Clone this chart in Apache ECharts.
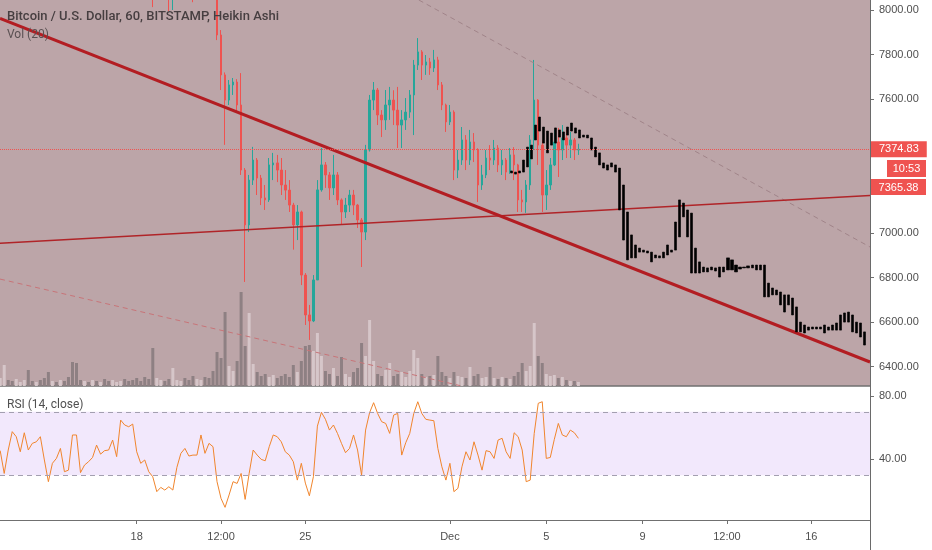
<!DOCTYPE html>
<html><head><meta charset="utf-8">
<script src="https://cdn.jsdelivr.net/npm/echarts@6/dist/echarts.min.js"></script>
<style>html,body{margin:0;padding:0;background:#fff}#c{width:932px;height:550px}</style>
</head><body><div id="c"></div>
<script>
// ---- time layout (hours from 18 Nov 00:00) ----
const candleStartHour = -136;
const candleStepHours = 4;
const patternStartHour = 373;
const patternStepHours = 4;

// ---- Heikin Ashi candles (USD) ----
const candleOpen = [8745,8770,8785,8760,8740,8755,8770,8780,8745,8730,
8750,8735,8700,8660,8680,8670,8690,8665,8630,8560,
8480,8470,8500,8490,8520,8510,8530,8505,8490,8520,
8545,8570,8555,8530,8480,8420,8330,8230,8160,8100,
8130,8165,8140,8090,8110,8140,8160,8130,8105,8090,
8115,8125,8100,8090,8060,7888,7709,7596,7664,7677,
7574,7282,7036,7237,7327,7246,7157,7148,7305,7314,
7282,7215,7192,7125,7036,7094,6811,6632,6605,6789,
7193,7305,7260,7202,7260,7148,7094,7125,7170,7125,
7058,7004,7372,7596,7641,7529,7507,7574,7596,7551,
7484,7507,7542,7619,7753,7812,7753,7767,7740,7776,
7664,7574,7498,7542,7282,7327,7417,7327,7408,7372,
7215,7260,7336,7327,7381,7305,7327,7273,7350,7305,
7148,7139,7215,7417,7596,7394,7170,7215,7305,7408,
7372,7426,7394,7417,7372];
const candleClose = [8770,8785,8760,8740,8755,8770,8780,8745,8730,8750,
8735,8700,8660,8680,8670,8690,8665,8630,8560,8480,
8470,8500,8490,8520,8510,8530,8505,8490,8520,8545,
8570,8555,8530,8480,8420,8330,8230,8160,8100,8130,
8165,8140,8090,8110,8140,8160,8130,8105,8090,8115,
8125,8100,8090,8060,7888,7709,7596,7664,7677,7574,
7282,7036,7237,7327,7246,7157,7148,7305,7314,7282,
7215,7192,7125,7036,7094,6811,6632,6605,6789,7193,
7305,7260,7202,7260,7148,7094,7125,7170,7125,7058,
7004,7372,7596,7641,7529,7507,7574,7596,7551,7484,
7507,7542,7619,7753,7812,7753,7767,7740,7776,7664,
7574,7498,7542,7282,7327,7417,7327,7408,7372,7215,
7260,7336,7327,7381,7305,7327,7273,7350,7305,7148,
7139,7215,7417,7596,7394,7170,7215,7305,7408,7372,
7426,7394,7417,7372,7375];
const candleLow = [8720,8750,8740,8715,8720,8740,8755,8720,8705,8715,
8710,8680,8640,8645,8650,8655,8645,8610,8530,8440,
8445,8455,8470,8475,8490,8495,8485,8470,8475,8505,
8530,8535,8510,8455,8390,8300,8190,8120,8013,8075,
8110,8115,7995,8000,8095,8125,8110,8080,8035,8070,
8095,8075,8060,8045,7865,7641,7395,7574,7619,7543,
7260,6780,7004,7215,7170,7125,7103,7139,7237,7228,
7170,7148,7094,6925,6968,6766,6587,6520,6600,6789,
7185,7202,7148,7170,7125,7036,7067,7094,7080,7022,
6847,6968,7365,7551,7484,7430,7462,7507,7484,7381,
7381,7462,7516,7439,7731,7686,7709,7709,7722,7641,
7551,7453,7484,7237,7246,7305,7282,7305,7318,7139,
7193,7246,7282,7305,7273,7260,7237,7265,7237,7094,
7094,7090,7193,7372,7305,7094,7103,7193,7300,7251,
7327,7336,7336,7327,7350];
const candleHigh = [8800,8810,8800,8775,8780,8795,8805,8800,8760,8770,
8765,8750,8715,8700,8695,8710,8705,8680,8645,8575,
8500,8520,8515,8540,8535,8550,8545,8520,8540,8565,
8590,8590,8570,8545,8495,8435,8345,8245,8175,8150,
8190,8180,8155,8130,8160,8185,8175,8145,8120,8135,
8145,8140,8120,8110,8080,7910,7720,7686,7695,7690,
7717,7291,7260,7386,7336,7260,7215,7336,7359,7350,
7336,7282,7237,7135,7125,7100,6820,6677,6811,7237,
7381,7318,7273,7350,7273,7155,7157,7193,7193,7130,
7067,7395,7619,7677,7650,7551,7641,7655,7640,7655,
7551,7605,7641,7776,7874,7820,7798,7785,7821,7790,
7677,7580,7574,7550,7372,7475,7439,7462,7448,7380,
7305,7372,7394,7417,7394,7372,7336,7381,7385,7310,
7193,7237,7439,7776,7600,7417,7282,7336,7462,7471,
7484,7462,7453,7426,7400];

// ---- volume (BTC) ----
const volume = [240,630,180,150,210,120,180,480,150,120,
180,240,420,150,120,180,150,270,720,690,
180,150,120,180,150,120,210,150,180,120,
150,210,150,180,240,150,270,210,1140,240,
180,150,210,540,180,150,240,180,300,210,
180,270,240,450,1020,840,2220,600,450,750,
2820,1200,2190,660,420,300,360,270,330,240,
300,360,270,630,420,750,1200,1230,1050,1590,
900,450,360,540,300,870,360,270,420,540,
1290,900,1980,750,360,300,480,690,300,360,
420,270,450,1080,840,360,270,300,330,900,
420,300,240,420,300,270,240,570,300,360,
240,270,570,240,210,270,240,210,300,420,
690,450,600,1890,900,690,360,300,330,240,
270,180,150,150,120];

// ---- RSI (14, close) ----
const rsi = [45.5,31.1,45.9,57.5,54.3,44.8,56.8,45.9,50.1,51.1,
54.3,39.6,25.9,37.5,40.6,46.9,32.2,33.2,55.4,55.4,
31.6,36.4,38.5,41.2,49.0,43.3,45.5,45.9,52.2,41.7,
64.8,61.7,60.6,62.3,44.8,37.5,39.6,32.2,29.0,19.6,
22.3,20.6,22.7,20.6,34.9,43.8,46.9,42.1,42.7,42.7,
55.4,43.8,50.1,48.0,25.9,15.3,9.7,17.5,25.9,24.8,
31.1,14.7,31.1,45.9,42.7,40.0,39.1,48.0,55.4,54.3,
51.1,44.8,42.7,38.5,26.9,37.5,25.0,17.0,29.0,61.0,
69.7,65.3,58.5,61.7,56.4,50.1,44.2,46.9,55.4,45.9,
30.0,58.5,69.5,75.8,69.0,63.8,62.7,56.4,68.0,69.0,
42.7,50.5,56.4,69.0,76.4,69.0,65.3,64.8,64.4,46.9,
35.3,26.9,37.5,19.6,21.7,35.3,44.8,39.6,51.1,42.7,
33.2,45.5,44.8,40.6,52.2,53.3,44.8,40.6,56.8,54.3,
45.9,25.9,26.9,56.4,75.4,76.4,40.6,41.2,52.6,62.7,
55.4,54.3,58.5,56.8,53.3];

// ---- projected bars pattern (black) ----
const patternTop = [7278,7273,7278,7327,7385,7394,7484,7520,7475,7457,
7448,7471,7462,7453,7475,7493,7471,7462,7439,7439,
7426,7385,7359,7314,7305,7314,7305,7291,7215,7094,
6991,6946,6932,6923,6919,6914,6901,6897,6914,6946,
6923,7049,7148,7134,7103,7089,6932,6870,6847,6843,
6847,6843,6847,6847,6888,6879,6856,6847,6847,6852,
6856,6856,6856,6856,6775,6753,6744,6735,6722,6722,
6708,6668,6600,6587,6578,6578,6578,6578,6587,6578,
6587,6596,6632,6641,6645,6632,6600,6596,6556];
const patternBottom = [7269,7264,7269,7273,7296,7332,7417,7457,7403,7359,
7394,7403,7430,7417,7439,7457,7448,7426,7430,7426,
7372,7341,7305,7291,7282,7296,7273,7103,6968,6879,
6888,6888,6914,6914,6910,6870,6888,6888,6888,6901,
6914,6923,6982,7072,6982,6820,6820,6820,6825,6825,
6834,6829,6802,6825,6834,6834,6825,6838,6843,6843,
6843,6834,6834,6713,6713,6722,6722,6677,6645,6677,
6632,6556,6556,6551,6564,6569,6569,6569,6551,6564,
6564,6564,6564,6600,6600,6556,6551,6533,6497];

// ---- drawn trend lines [hour, price] ----
const thickTrend = [[-136.2, 7962], [730.5, 6421]];
const thinTrend = [[-136.2, 6953.5], [730.5, 7168]];
const upperDashed = [[281, 8045], [730.5, 6937]];
const lowerDashed = [[-136.2, 6793], [322.1, 6315]];
const lastPrice = 7374.83;

// ---- axes ----
const xTickHours = [0, 84, 168, 312, 408, 504, 588, 672];
const xTickLabels = ['18', '12:00', '25', 'Dec', '5', '9', '12:00', '16'];
const priceTicks = [6400, 6600, 6800, 7000, 7600, 7800, 8000];
const rsiTicks = [40, 80];

const FONT = 'Liberation Sans, Arial, sans-serif';
const TXT = '#4f4f4f';
const X_MIN = -136.2, X_MAX = 730.5;

const candleData = candleOpen.map((o, i) => [candleStartHour + i * candleStepHours, o, candleClose[i], candleLow[i], candleHigh[i]]);
const volData = volume.map((v, i) => ({
  value: [candleStartHour + i * candleStepHours, v],
  itemStyle: { color: candleClose[i] >= candleOpen[i] ? '#d6c6c9' : '#8e8083' }
}));
const rsiData = rsi.map((v, i) => [candleStartHour + i * candleStepHours, v]);
const patternData = patternTop.map((t, k) => [patternStartHour + k * patternStepHours, t, patternBottom[k], patternBottom[k], t]);

const chart = echarts.init(document.getElementById('c'));
chart.setOption({
  animation: false,
  backgroundColor: '#ffffff',
  textStyle: { fontFamily: FONT },
  title: [
    { text: 'Bitcoin / U.S. Dollar, 60, BITSTAMP, Heikin Ashi', left: 7, top: 10, padding: 0,
      textStyle: { fontSize: 13, fontWeight: 500, color: '#463e40', fontFamily: 'Roboto, ' + FONT } },
    { text: 'Vol (20)', left: 7, top: 29, padding: 0,
      textStyle: { fontSize: 12, fontWeight: 'normal', color: '#5a5052', fontFamily: 'Roboto, ' + FONT } },
    { text: 'RSI (14, close)', left: 7, top: 399, padding: 0,
      textStyle: { fontSize: 12, fontWeight: 'normal', color: '#505050', fontFamily: 'Roboto, ' + FONT } }
  ],
  grid: [
    { left: 0, top: 0, width: 870, height: 386, show: true, backgroundColor: '#bca5a8', borderWidth: 0 },
    { left: 0, top: 387, width: 870, height: 133, show: true, backgroundColor: '#ffffff', borderWidth: 0 }
  ],
  xAxis: [
    { type: 'value', gridIndex: 0, min: X_MIN, max: X_MAX,
      axisLine: { show: true, onZero: false, lineStyle: { color: '#707070', width: 1.5 } },
      axisTick: { show: false }, axisLabel: { show: false }, splitLine: { show: false } },
    { type: 'value', gridIndex: 1, min: X_MIN, max: X_MAX,
      axisLine: { show: true, onZero: false, lineStyle: { color: '#707070', width: 1 } },
      axisTick: { show: true, customValues: xTickHours, length: 4, lineStyle: { color: '#707070' } },
      axisLabel: { customValues: xTickHours, fontSize: 11, color: TXT, margin: 11,
        formatter: v => { const k = xTickHours.indexOf(v); return k >= 0 ? xTickLabels[k] : ''; } },
      splitLine: { show: false } }
  ],
  yAxis: [
    { type: 'value', gridIndex: 0, position: 'right', min: 6313.3, max: 8044.9,
      axisLine: { show: false, onZero: false },
      axisTick: { show: true, customValues: priceTicks, length: 4, lineStyle: { color: '#707070' } },
      axisLabel: { customValues: priceTicks, fontSize: 11, color: TXT, margin: 9, formatter: v => v.toFixed(2) },
      splitLine: { show: false } },
    { type: 'value', gridIndex: 0, min: 0, max: 11580, show: false, axisLine: { onZero: false }, splitLine: { show: false } },
    { type: 'value', gridIndex: 1, position: 'right', min: 1.7, max: 85.7,
      axisLine: { show: false, onZero: false },
      axisTick: { show: true, customValues: rsiTicks, length: 4, lineStyle: { color: '#707070' } },
      axisLabel: { customValues: rsiTicks, fontSize: 11, color: TXT, margin: 9, formatter: v => v.toFixed(2) },
      splitLine: { show: false } }
  ],
  series: [
    { type: 'bar', name: 'Vol', xAxisIndex: 0, yAxisIndex: 1, data: volData, barWidth: 3, z: 1, silent: true },
    { type: 'candlestick', name: 'BTCUSD', xAxisIndex: 0, yAxisIndex: 0, data: candleData, barWidth: 2, z: 2, clip: true,
      itemStyle: { color: '#26a69a', color0: '#ef5350', borderColor: '#26a69a', borderColor0: '#ef5350', borderWidth: 1 },
      markLine: { symbol: 'none', silent: true, data: [{ yAxis: lastPrice }],
        lineStyle: { color: '#ef5350', type: 'dotted', width: 1 },
        label: { position: 'end', distance: 1, formatter: lastPrice.toFixed(2), backgroundColor: '#ef5350',
          color: '#ffffff', fontSize: 11, padding: [3, 8, 2, 8], fontFamily: FONT } } },
    { type: 'line', xAxisIndex: 0, yAxisIndex: 0, data: lowerDashed, symbol: 'none', z: 3, silent: true,
      lineStyle: { color: '#c77478', width: 1, type: [5, 4] } },
    { type: 'line', xAxisIndex: 0, yAxisIndex: 0, data: upperDashed, symbol: 'none', z: 3, silent: true,
      lineStyle: { color: '#a08489', width: 1, type: [5, 4] } },
    { type: 'line', xAxisIndex: 0, yAxisIndex: 0, data: thinTrend, symbol: 'none', z: 3, silent: true,
      lineStyle: { color: '#b02428', width: 1.5 } },
    { type: 'line', xAxisIndex: 0, yAxisIndex: 0, data: thickTrend, symbol: 'none', z: 3, silent: true,
      lineStyle: { color: '#b31d22', width: 3 } },
    { type: 'candlestick', name: 'Pattern', xAxisIndex: 0, yAxisIndex: 0, data: patternData, barWidth: 2.6, z: 4,
      itemStyle: { color: '#000', color0: '#000', borderColor: '#000', borderColor0: '#000', borderWidth: 0.6 } },
    { type: 'line', name: 'RSI', xAxisIndex: 1, yAxisIndex: 2, data: rsiData, symbol: 'none', z: 3,
      lineStyle: { color: '#f0852d', width: 1 },
      markArea: { silent: true, itemStyle: { color: '#f2e8fc' }, data: [[{ yAxis: 30 }, { yAxis: 70 }]] },
      markLine: { silent: true, symbol: 'none', label: { show: false },
        lineStyle: { color: '#a39fb0', type: [5, 4], width: 1 }, data: [{ yAxis: 70 }, { yAxis: 30 }] } }
  ],
  graphic: [
    { type: 'line', shape: { x1: 870.5, y1: 0, x2: 870.5, y2: 550 }, style: { stroke: '#6a6a6a', lineWidth: 1 }, z: 10 },
    { type: 'rect', shape: { x: 887, y: 160, width: 39, height: 17 }, style: { fill: '#ef5350' }, z: 10 },
    { type: 'text', x: 906.5, y: 168.5, style: { text: '10:53', fill: '#fff', font: '11px ' + FONT, align: 'center', verticalAlign: 'middle' }, z: 11 },
    { type: 'rect', shape: { x: 871, y: 179, width: 55, height: 16 }, style: { fill: '#ef5350' }, z: 10 },
    { type: 'text', x: 898.5, y: 187.5, style: { text: '7365.38', fill: '#fff', font: '11px ' + FONT, align: 'center', verticalAlign: 'middle' }, z: 11 }
  ]
});
</script>
</body></html>
